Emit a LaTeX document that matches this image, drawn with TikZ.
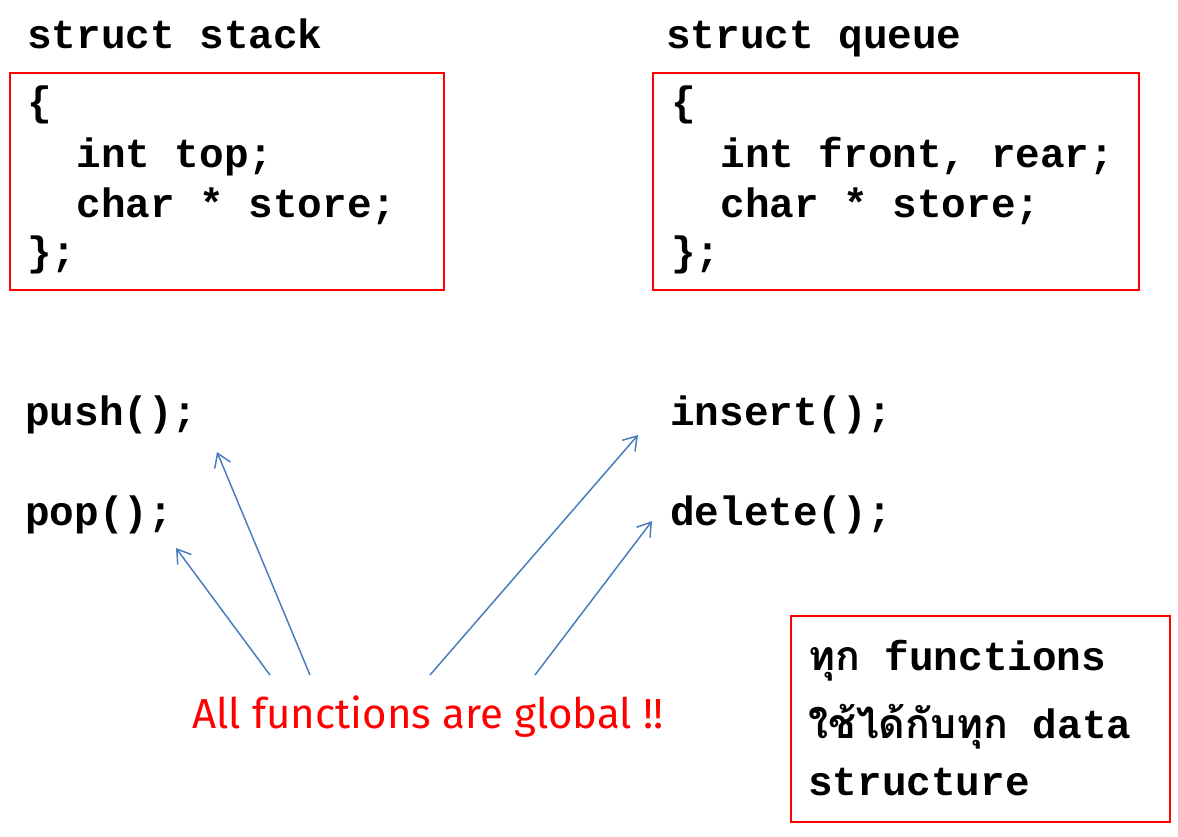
\documentclass[tikz,border=0pt]{standalone}
\usepackage{fontspec}
\setmonofont{Liberation Mono}
\newfontfamily\thaifont[Script=Thai]{Loma}
\newfontfamily\notefont{Fira Sans}
\usetikzlibrary{arrows.meta}
\definecolor{boxred}{RGB}{255,0,0}
\definecolor{arrowblue}{RGB}{74,126,187}
\tikzset{
  code/.style={anchor=base west,inner sep=0pt,font=\fontsize{41}{50}\selectfont\ttfamily\bfseries},
  redbox/.style={draw=boxred,line width=2.8pt,minimum width=#1,inner sep=0pt},
  pointer/.style={draw=arrowblue,line width=1.5pt,-{Straight Barb[length=13pt,width=17pt]}},
}
\begin{document}
\begin{tikzpicture}[x=1pt,y=-1pt]
%%
  \useasboundingbox (0,0) rectangle (1178,836);

  \node (box_stack) at (227,181.5) [redbox=434pt,minimum height=217pt] {};
  \node (box_queue) at (896,181.5) [redbox=486pt,minimum height=217pt] {};
  \node (box_note) at (980.5,719) [redbox=379pt,minimum height=206pt] {};

  \node (stack_0) at (27,48) [code] {struct stack};
  \node (stack_1) at (27,115) [code] {\{};
  \node (stack_2) at (27,167) [code] {\ \ int top;};
  \node (stack_3) at (27,217) [code] {\ \ char * store;};
  \node (stack_4) at (27,265) [code] {\};};

  \node (queue_0) at (666,48) [code] {struct queue};
  \node (queue_1) at (671,115) [code] {\{};
  \node (queue_2) at (671,167) [code] {\ \ int front, rear;};
  \node (queue_3) at (671,217) [code] {\ \ char * store;};
  \node (queue_4) at (671,265) [code] {\};};

  \node (func_push) at (25,425) [code] {push();};
  \node (func_pop) at (25,525) [code] {pop();};
  \node (func_insert) at (670,425) [code] {insert();};
  \node (func_delete) at (670,525) [code] {delete();};

  \node (note_0) at (808,670) [code] {{\thaifont ทุก} functions};
  \node (note_1) at (808,738) [code] {{\thaifont ใช้ได้กับทุก} data};
  \node (note_2) at (808,795) [code] {structure};

  \node (global) at (428,728) [anchor=base,inner sep=0pt,text=boxred,font=\fontsize{42}{46}\notefont] {All functions are global !!};

  \coordinate (tail_1) at (270,675);
  \coordinate (tail_2) at (310,675);
  \coordinate (tail_3) at (430,675);
  \coordinate (tail_4) at (535,675);
  \coordinate (head_1) at (176,548);
  \coordinate (head_2) at (217,452);
  \coordinate (head_3) at (638,435);
  \coordinate (head_4) at (652,521);

  \draw [pointer] (tail_1) -- (head_1);
  \draw [pointer] (tail_2) -- (head_2);
  \draw [pointer] (tail_3) -- (head_3);
  \draw [pointer] (tail_4) -- (head_4);
%
\end{tikzpicture}
\end{document}
